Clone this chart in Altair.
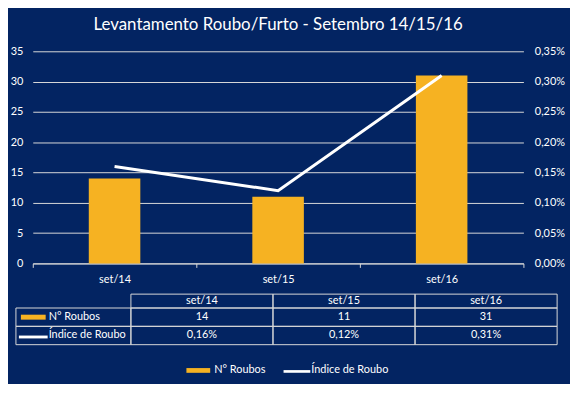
import altair as alt
import pandas as pd

# ---- data ----
categories = ["set/14", "set/15", "set/16"]
roubos = [14, 11, 31]
indice = [0.0016, 0.0012, 0.0031]
series_names = ["N° Roubos", "Índice de Roubo"]
left_ticks = [0, 5, 10, 15, 20, 25, 30, 35]
right_ticks = [0, 0.0005, 0.001, 0.0015, 0.002, 0.0025, 0.003, 0.0035]
title_text = "Levantamento Roubo/Furto - Setembro 14/15/16"

# ---- style ----
NAVY = "#032462"
ORANGE = "#F6B222"
GRID = "#D9D9D9"
FONT = "Lato"
FS = 11
W, H = 495, 214
BAR_SHAPE = "M0,-0.2H2V0.2H0Z"
LINE_SHAPE = "M0,-0.1H2V0.1H0Z"


def pct(v):
    return f"{v * 100:.2f}%".replace(".", ",")


main_df = pd.DataFrame({"cat": categories, "roubos": roubos, "indice": indice})
header_df = pd.DataFrame({"cat": categories, "hdr": ["hdr"] * len(categories)})
body = []
for c, r, i in zip(categories, roubos, indice):
    body.append({"cat": c, "row": series_names[0], "txt": str(r)})
    body.append({"cat": c, "row": series_names[1], "txt": pct(i)})
body_df = pd.DataFrame(body)
label_df = pd.DataFrame({"row": series_names, "lab": ["lab"] * len(series_names)})
legend_df = pd.DataFrame({"series": series_names})

# ---- scales ----
def band(domain, rng=None):
    if rng is None:
        return alt.Scale(domain=domain, type="band", paddingInner=0, paddingOuter=0)
    return alt.Scale(domain=domain, type="band", range=rng, paddingInner=0, paddingOuter=0)


x_main = band(categories)
x_tab = band(categories, [99, 529])
x_lab = band(["lab"], [-17, 99])
y_hdr = band(["hdr"], [245, 259])
y_body = band(series_names, [259, 296])
x_leg = band(series_names, [155, 351])

label_style = dict(labelColor="white", labelFont=FONT, labelFontSize=FS)

bars = alt.Chart(main_df).mark_bar(color=ORANGE, width=alt.RelativeBandSize(52 / 165)).encode(
    x=alt.X("cat:N", scale=x_main, axis=alt.Axis(
        title=None, labelAngle=0, tickBand="extent", tickSize=4, tickColor=GRID,
        domainColor=GRID, grid=False, labelPadding=6, **label_style)),
    y=alt.Y("roubos:Q", scale=alt.Scale(domain=[0, 35]), axis=alt.Axis(
        title=None, values=left_ticks, grid=True, gridColor=GRID, gridWidth=1,
        ticks=False, domain=False, labelPadding=10, **label_style)),
)

line = alt.Chart(main_df).mark_line(color="white", strokeWidth=3).encode(
    x=alt.X("cat:N", scale=x_main, axis=None, bandPosition=0.5),
    y=alt.Y("indice:Q", scale=alt.Scale(domain=[0, 0.0035]), axis=alt.Axis(
        orient="right", title=None, values=right_ticks,
        labelExpr="replace(format(datum.value, '.2%'), '.', ',')",
        grid=False, ticks=False, domain=False, labelPadding=11, **label_style)),
)

cell = dict(fillOpacity=0, stroke=GRID, strokeWidth=1)
txt = dict(color="white", font=FONT, fontSize=FS)

hdr_rect = alt.Chart(header_df).mark_rect(**cell).encode(
    x=alt.X("cat:N", scale=x_tab, axis=None),
    y=alt.Y("hdr:N", scale=y_hdr, axis=None))
hdr_text = alt.Chart(header_df).mark_text(**txt).encode(
    x=alt.X("cat:N", scale=x_tab, axis=None, bandPosition=0.5),
    y=alt.Y("hdr:N", scale=y_hdr, axis=None, bandPosition=0.5),
    text="cat:N")

body_rect = alt.Chart(body_df).mark_rect(**cell).encode(
    x=alt.X("cat:N", scale=x_tab, axis=None),
    y=alt.Y("row:N", scale=y_body, axis=None))
body_text = alt.Chart(body_df).mark_text(**txt).encode(
    x=alt.X("cat:N", scale=x_tab, axis=None, bandPosition=0.5),
    y=alt.Y("row:N", scale=y_body, axis=None, bandPosition=0.5),
    text="txt:N")

lab_rect = alt.Chart(label_df).mark_rect(**cell).encode(
    x=alt.X("lab:N", scale=x_lab, axis=None),
    y=alt.Y("row:N", scale=y_body, axis=None))
lab_text = alt.Chart(label_df).mark_text(align="left", dx=33, **txt).encode(
    x=alt.X("lab:N", scale=x_lab, axis=None, bandPosition=0),
    y=alt.Y("row:N", scale=y_body, axis=None, bandPosition=0.5),
    text="row:N")
lab_sym_bar = alt.Chart(label_df).transform_filter(
    alt.datum.row == series_names[0]
).mark_point(shape=BAR_SHAPE, size=625, filled=True, color=ORANGE, opacity=1, xOffset=5).encode(
    x=alt.X("lab:N", scale=x_lab, axis=None, bandPosition=0),
    y=alt.Y("row:N", scale=y_body, axis=None, bandPosition=0.5))
lab_sym_line = alt.Chart(label_df).transform_filter(
    alt.datum.row == series_names[1]
).mark_point(shape=LINE_SHAPE, size=841, filled=True, color="white", opacity=1, xOffset=3, yOffset=1.5).encode(
    x=alt.X("lab:N", scale=x_lab, axis=None, bandPosition=0),
    y=alt.Y("row:N", scale=y_body, axis=None, bandPosition=0.5))

leg_bar = alt.Chart(legend_df).transform_filter(
    alt.datum.series == series_names[0]
).mark_point(shape=BAR_SHAPE, size=576, filled=True, color=ORANGE, opacity=1).encode(
    x=alt.X("series:N", scale=x_leg, axis=None, bandPosition=0),
    y=alt.value(322))
leg_line = alt.Chart(legend_df).transform_filter(
    alt.datum.series == series_names[1]
).mark_point(shape=LINE_SHAPE, size=729, filled=True, color="white", opacity=1).encode(
    x=alt.X("series:N", scale=x_leg, axis=None, bandPosition=0),
    y=alt.value(323))
leg_text = alt.Chart(legend_df).mark_text(align="left", dx=28, **txt).encode(
    x=alt.X("series:N", scale=x_leg, axis=None, bandPosition=0),
    y=alt.value(322),
    text="series:N")

chart = alt.layer(
    bars, line, hdr_rect, hdr_text, body_rect, body_text,
    lab_rect, lab_text, lab_sym_bar, lab_sym_line, leg_bar, leg_line, leg_text,
).resolve_scale(x="independent", y="independent").properties(
    width=W,
    height=H,
    title=alt.TitleParams(title_text, font=FONT, fontSize=17, color="white",
                          fontWeight="normal", anchor="middle", frame="group",
                          baseline="alphabetic", offset=14, dy=16),
    autosize=alt.AutoSizeParams(type="none"),
    padding={"left": 25, "top": 42, "right": 47, "bottom": 120},
    background=NAVY,
).configure_view(stroke="transparent")

chart.save("out.html", embed_options={"renderer": "svg", "actions": False})
